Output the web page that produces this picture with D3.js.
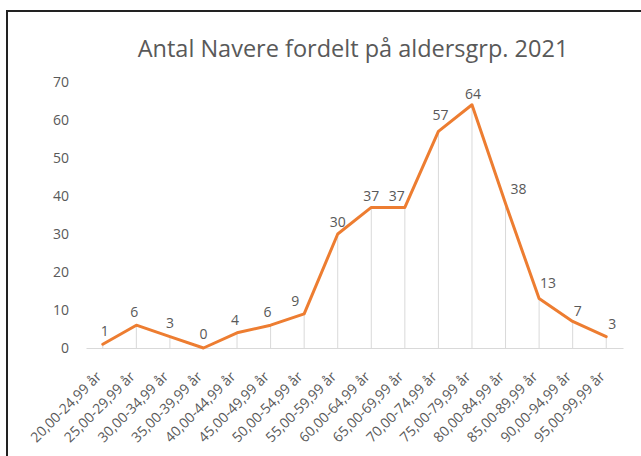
<!DOCTYPE html>
<html>
<head>
<meta charset="utf-8">
<script src="https://cdn.jsdelivr.net/npm/d3@7"></script>
<style>
  body { margin: 0; background: #fff; }
  text { font-family: "Open Sans", sans-serif; fill: #595959; }
</style>
</head>
<body>
<div class="chart-container"></div>
<script>
// age groups and counts
const ageGroups = [
  "20,00-24,99 år", "25,00-29,99 år", "30,00-34,99 år", "35,00-39,99 år",
  "40,00-44,99 år", "45,00-49,99 år", "50,00-54,99 år", "55,00-59,99 år",
  "60,00-64,99 år", "65,00-69,99 år", "70,00-74,99 år", "75,00-79,99 år",
  "80,00-84,99 år", "85,00-89,99 år", "90,00-94,99 år", "95,00-99,99 år"
];
const counts = [1, 6, 3, 0, 4, 6, 9, 30, 37, 37, 57, 64, 38, 13, 7, 3];
const yTicks = [0, 10, 20, 30, 40, 50, 60, 70];
const title = "Antal Navere fordelt på aldersgrp. 2021";

// small nudges of the value labels, as in the original
const labelDx = [2, -2, 0, 0, -2, -3, -9, 0, 0, -8, 2, 1, 13, 9, 5, 6];
const labelDy = [-13, -13, -14, -14, -13, -13, -13, -12, -11, -11, -16, -11, -15, -16, -10, -13];

const width = 641, height = 456;

const svg = d3.select('.chart-container')
  .append('svg')
  .attr('width', width)
  .attr('height', height);

// frame (only top and left edges are visible in the crop)
svg.append('path')
  .attr('d', 'M7,456 V11 H641')
  .attr('fill', 'none')
  .attr('stroke', '#222')
  .attr('stroke-width', 2);

svg.append('text')
  .attr('x', 353)
  .attr('y', 57)
  .attr('text-anchor', 'middle')
  .style('font-size', '23.5px')
  .text(title);

const xScale = d3.scaleBand()
  .domain(ageGroups)
  .range([86, 623]);

const yScale = d3.scaleLinear()
  .domain([0, 70])
  .range([348, 82]);

const cx = (d) => xScale(d) + xScale.bandwidth() / 2;

// y axis labels
const yAxis = d3.axisLeft(yScale).tickValues(yTicks).tickSize(0).tickPadding(0);
const gy = svg.append('g')
  .attr('transform', 'translate(69,0)')
  .call(yAxis);
gy.select('.domain').remove();
gy.selectAll('text')
  .attr('dy', '0.35em')
  .style('font-size', '14px')
  .style('font-family', '"Open Sans", sans-serif')
  .attr('fill', '#595959');

// drop lines
svg.append('g')
  .selectAll('line')
  .data(ageGroups)
  .join('line')
  .attr('x1', (d) => cx(d))
  .attr('x2', (d) => cx(d))
  .attr('y1', (d, i) => yScale(counts[i]))
  .attr('y2', yScale(0))
  .attr('stroke', '#d9d9d9')
  .attr('stroke-width', 1);

// x axis line
const xAxis = d3.axisBottom(xScale).tickSize(0).tickFormat('');
const gx = svg.append('g')
  .attr('transform', 'translate(0,' + yScale(0) + ')')
  .call(xAxis);
gx.select('.domain')
  .attr('stroke', '#d9d9d9')
  .attr('stroke-width', 1);

// rotated category labels
svg.append('g')
  .selectAll('text')
  .data(ageGroups)
  .join('text')
  .attr('transform', (d) => 'translate(' + (cx(d) - 4) + ',374) rotate(-45)')
  .attr('text-anchor', 'end')
  .attr('dy', '0.35em')
  .style('font-size', '14px')
  .text((d) => d);

// the line
const line = d3.line()
  .x((d, i) => cx(ageGroups[i]))
  .y((d) => yScale(d));

svg.append('path')
  .datum(counts)
  .attr('fill', 'none')
  .attr('stroke', '#ed7d31')
  .attr('stroke-width', 3)
  .attr('stroke-linejoin', 'round')
  .attr('stroke-linecap', 'round')
  .attr('d', line);

// value labels
svg.append('g')
  .selectAll('text')
  .data(counts)
  .join('text')
  .attr('x', (d, i) => cx(ageGroups[i]) + labelDx[i])
  .attr('y', (d, i) => yScale(d) + labelDy[i])
  .attr('dy', '0.35em')
  .attr('text-anchor', 'middle')
  .style('font-size', '14px')
  .text((d) => d);
</script>
</body>
</html>
